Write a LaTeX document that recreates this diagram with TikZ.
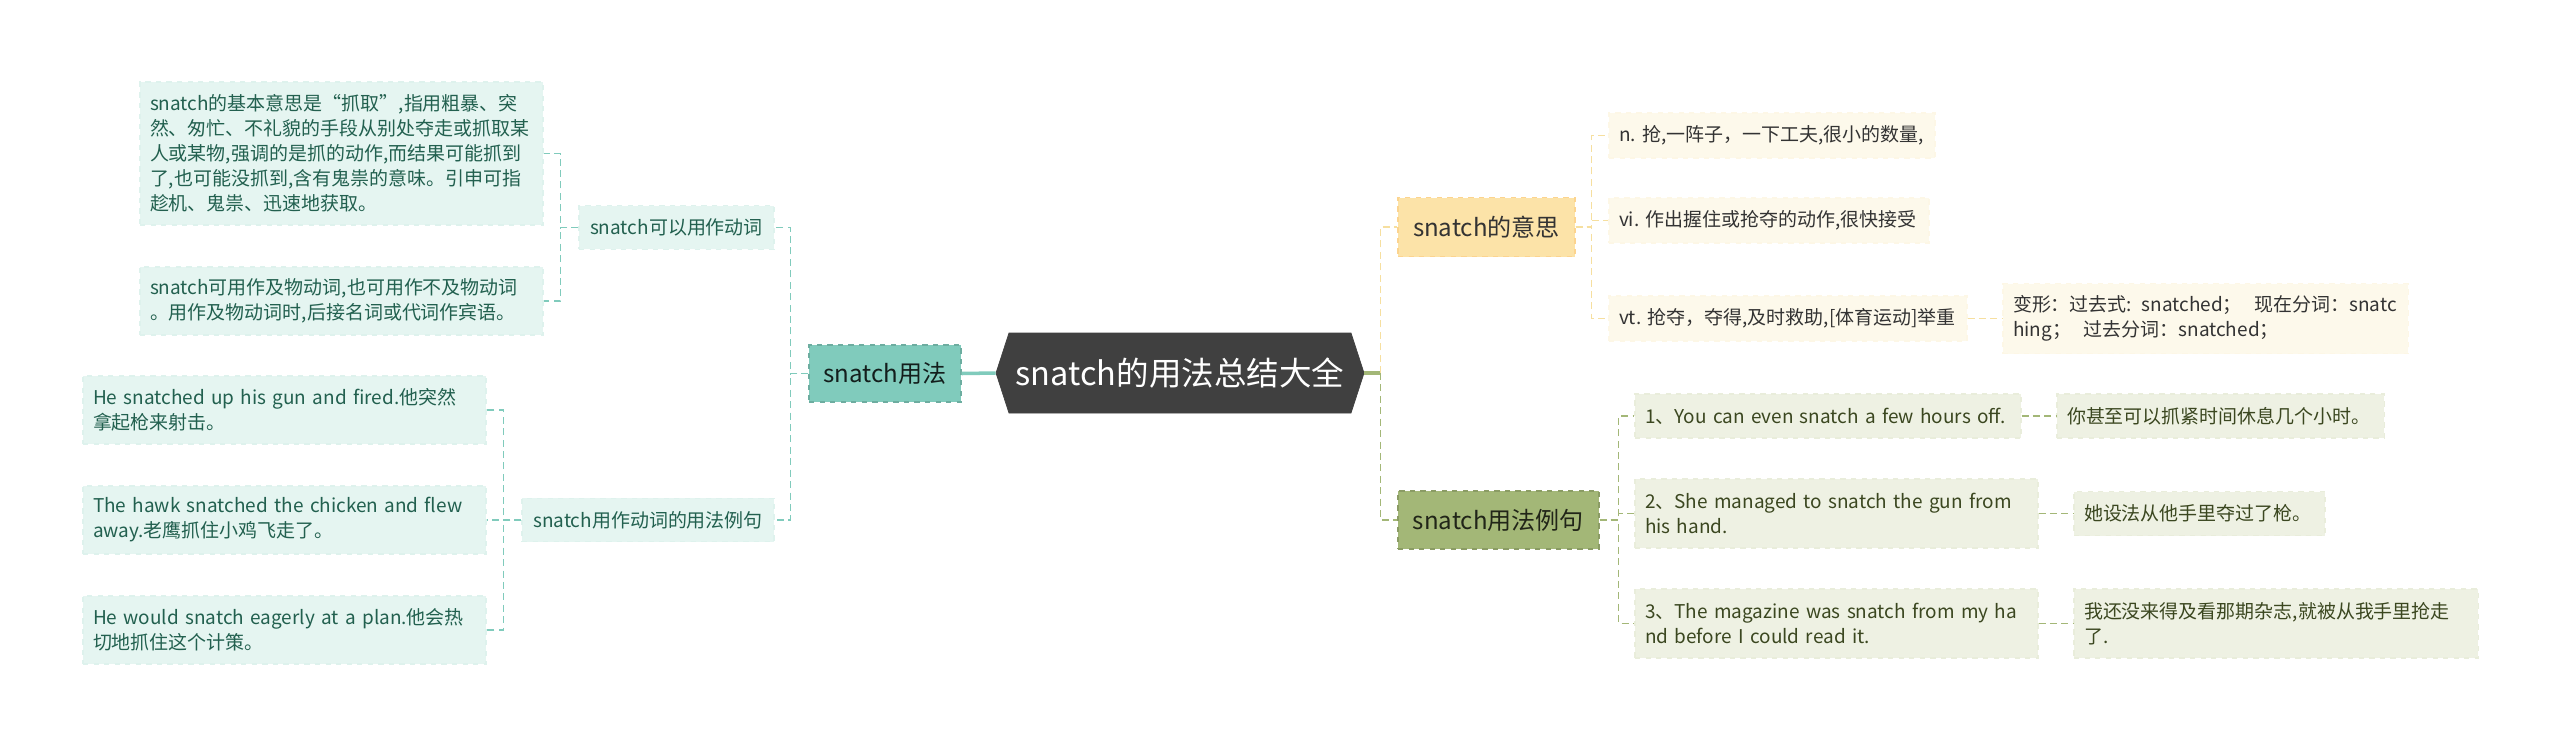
\documentclass[tikz,border=0pt]{standalone}
\usepackage{fontspec}
\setmainfont{Noto Sans CJK SC}
\usepackage{tikz}
\usetikzlibrary{positioning,shapes.symbols}

\definecolor{tealmain}{HTML}{80CBBC}
\definecolor{tealleaf}{HTML}{E5F5F1}
\definecolor{tealtext}{HTML}{22604F}
\definecolor{yelmain}{HTML}{FCE3A8}
\definecolor{yelline}{HTML}{F6DF9F}
\definecolor{yelleaf}{HTML}{FDF9EB}
\definecolor{olvmain}{HTML}{A3B777}
\definecolor{olvleaf}{HTML}{EEF1E3}
\definecolor{olvtext}{HTML}{3B4720}
\definecolor{rootfill}{HTML}{404040}

\tikzset{
  box/.style={rectangle, dashed, line width=0.6pt, inner xsep=0.2cm, inner ysep=0.12cm,
    font=\fontsize{10.8}{14.2}\selectfont},
  leaf/.style={box, align=left, text width=#1},
  leaf/.default=7.66cm,
  leafL/.style={leaf=#1, fill=tealleaf, draw=tealleaf!93!tealmain, text=tealtext},
  leafL/.default=7.66cm,
  leafY/.style={leaf=#1, fill=yelleaf, draw=yelleaf!93!yelmain, text=black!80},
  leafY/.default=7.66cm,
  leafG/.style={leaf=#1, fill=olvleaf, draw=olvleaf!93!olvmain, text=olvtext},
  leafG/.default=7.66cm,
  subL/.style={box, align=center, fill=tealleaf, draw=tealleaf!93!tealmain, text=tealtext, minimum height=0.87cm},
  main/.style={box, align=center, font=\fontsize{13.7}{16}\selectfont},
  mainL/.style={main, fill=tealmain, draw=tealmain!85!black, text=black!85!tealmain},
  mainY/.style={main, fill=yelmain, draw=yelmain!85!orange, text=black!80},
  mainG/.style={main, fill=olvmain, draw=olvmain!85!black, text=black!80!olvmain},
  rootnode/.style={signal, signal to=west and east, signal pointer angle=144, fill=rootfill,
    draw=rootfill, text=white, font=\fontsize{18.5}{22}\selectfont,
    minimum width=7.36cm, minimum height=1.6cm, inner sep=0pt},
  link/.style={dash pattern=on 4pt off 2.5pt, line width=0.8pt},
  linkL/.style={link, draw=tealmain},
  linkY/.style={link, draw=yelline},
  linkG/.style={link, draw=olvmain},
  trunk/.style={line width=2pt}
}

\begin{document}
\begin{tikzpicture}[on grid, node distance=2cm]
\useasboundingbox[fill=white] (0,0) rectangle (51.2,-14.94);

% centre
\node[rootnode] (root) at (23.6,-7.46) {snatch的用法总结大全};

% left branch
\node[mainL, minimum width=3.04cm, minimum height=1.14cm] (use) at (17.7,-7.47) {snatch用法};
\node[subL, minimum width=3.9cm] (verb) at (13.53,-4.55) {snatch可以用作动词};
\node[subL, minimum width=5.04cm] (sample) at (12.96,-10.4) {snatch用作动词的用法例句};

\node[leafL, minimum height=2.86cm] (def) at (6.83,-3.07) {snatch的基本意思是“抓取”,指用粗暴、突\\然、匆忙、不礼貌的手段从别处夺走或抓取某\\人或某物,强调的是抓的动作,而结果可能抓到\\了,也可能没抓到,含有鬼祟的意味。引申可指\\趁机、鬼祟、迅速地获取。};
\node[leafL, minimum height=1.36cm] (trans) [below=2.95cm of def] {snatch可用作及物动词,也可用作不及物动词\\。用作及物动词时,后接名词或代词作宾语。};
\node[leafL, minimum height=1.36cm] (sen1) at (5.69,-8.2) {He snatched up his gun and fired.他突然\\拿起枪来射击。};
\node[leafL, minimum height=1.36cm] (sen2) [below=2.2cm of sen1] {The hawk snatched the chicken and flew\\away.老鹰抓住小鸡飞走了。};
\node[leafL, minimum height=1.36cm] (sen3) [below=2.2cm of sen2] {He would snatch eagerly at a plan.他会热\\切地抓住这个计策。};

% right branch, meanings
\node[mainY, minimum width=3.54cm, minimum height=1.18cm] (mean) at (29.73,-4.54) {snatch的意思};
\node[leafY=6.12cm, minimum height=0.9cm] (noun) at (35.44,-2.71) {n.~抢,一阵子，一下工夫,很小的数量,};
\node[leafY=6cm, minimum height=0.9cm] (vi) at (35.38,-4.41) {vi.~作出握住或抢夺的动作,很快接受};
\node[leafY=6.76cm, minimum height=0.9cm] (vt) at (35.76,-6.37) {vt.~抢夺，夺得,及时救助,[体育运动]举重};
\node[leafY=7.7cm, minimum height=1.4cm] (form) [right=8.35cm of vt] {变形：过去式: snatched；\ \ 现在分词：snatc\\hing；\ \ 过去分词：snatched；};

% right branch, examples
\node[mainG, minimum width=4.02cm, minimum height=1.16cm] (usage) at (29.97,-10.4) {snatch用法例句};
\node[leafG=7.32cm, minimum height=0.88cm] (ex1) at (36.56,-8.32) {1、You can even snatch a few hours off.};
\node[leafG, minimum height=1.38cm] (ex2) at (36.73,-10.27) {2、She managed to snatch the gun from\\his hand.};
\node[leafG, minimum height=1.38cm] (ex3) [below=2.2cm of ex2] {3、The magazine was snatch from my ha\\nd before I could read it.};
\node[leafG=6.14cm, minimum height=0.88cm] (tr1) [right=7.85cm of ex1] {你甚至可以抓紧时间休息几个小时。};
\node[leafG=4.62cm, minimum height=0.88cm] (tr2) [right=7.26cm of ex2] {她设法从他手里夺过了枪。};
\node[leafG=7.68cm, minimum height=1.38cm] (tr3) [right=8.79cm of ex3] {我还没来得及看那期杂志,就被从我手里抢走\\了.};

% connectors
\draw[trunk, draw=tealmain] (root.west) -- (use.east);
\draw[linkL] (use.west) -- ++(-0.36,0) |- (verb.east);
\draw[linkL] (use.west) -- ++(-0.36,0) |- (sample.east);
\draw[linkL] (verb.west) -- ++(-0.36,0) |- (def.east);
\draw[linkL] (verb.west) -- ++(-0.36,0) |- (trans.east);
\foreach \s in {sen1,sen2,sen3}
  \draw[linkL] (sample.west) -- ++(-0.36,0) |- (\s.east);

\draw[trunk, draw=olvmain] (root.east) -- ++(0.32,0) coordinate (fork);
\draw[linkY] (fork) |- (mean.west);
\draw[linkG] (fork) |- (usage.west);
\foreach \s in {noun,vi,vt}
  \draw[linkY] (mean.east) -- ++(0.32,0) |- (\s.west);
\draw[linkY] (vt.east) -- (form.west);
\foreach \s in {ex1,ex2,ex3}
  \draw[linkG] (usage.east) -- ++(0.38,0) |- (\s.west);
\draw[linkG] (ex1.east) -- (tr1.west);
\draw[linkG] (ex2.east) -- (tr2.west);
\draw[linkG] (ex3.east) -- (tr3.west);

\end{tikzpicture}
\end{document}
